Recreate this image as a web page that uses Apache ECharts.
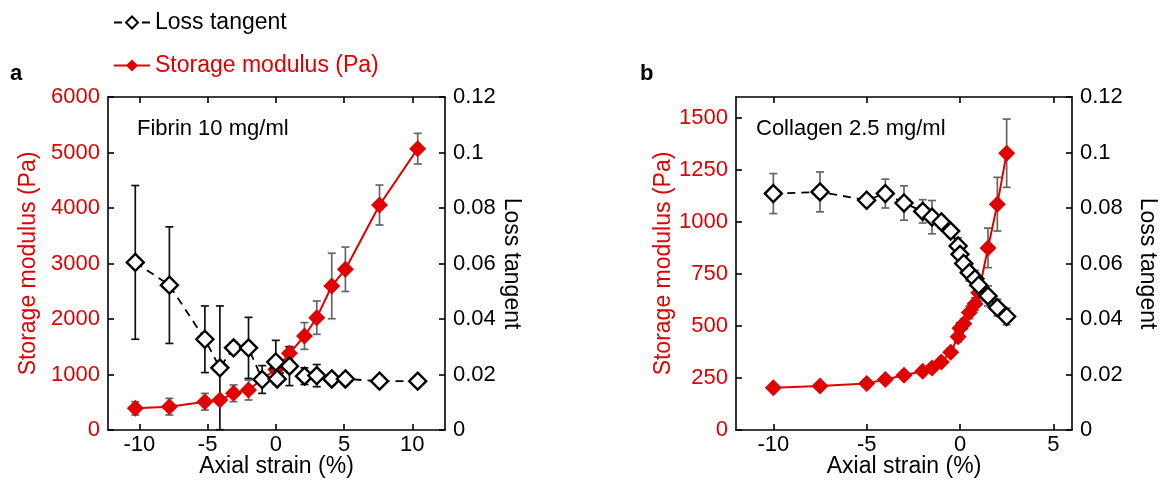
<!DOCTYPE html>
<html>
<head>
<meta charset="utf-8">
<script src="https://cdn.jsdelivr.net/npm/echarts@6/dist/echarts.min.js"></script>
<style>
  html, body { margin: 0; padding: 0; background: #fff; }
  #chart { width: 1162px; height: 480px; }
</style>
</head>
<body>
<div id="chart"></div>
<script>
const RED = '#e00000'
const FONT = '"Liberation Sans", Arial, Helvetica, sans-serif'

// panel a: fibrin 10 mg/ml
const strainA = [-10.3, -7.8, -5.2, -4.1, -3.1, -2.0, -1.0, 0, 0.1, 1.0, 2.1, 3.0, 4.1, 5.1, 7.6, 10.4]
const storageA = [391, 420, 510, 540, 661, 721, 919, 1090, 1111, 1382, 1694, 2024, 2595, 2896, 4054, 5069]
const storageErrA = [120, 150, 150, 40, 150, 180, 100, 100, 100, 120, 240, 300, 590, 400, 360, 276]
const lossA = [0.0604, 0.0522, 0.0327, 0.0224, 0.0296, 0.0296, 0.0182, 0.0245, 0.0184, 0.023, 0.0194, 0.0196, 0.0184, 0.0184, 0.0176, 0.0176]
const lossErrA = [0.0277, 0.021, 0.012, 0.0223, 0.002, 0.011, 0.005, 0.0078, 0.002, 0.007, 0.003, 0.004, 0.002, 0.002, 0.001, 0.001]

// panel b: collagen 2.5 mg/ml
const strainB = [-10, -7.5, -5, -4, -3, -2, -1.5, -1, -0.5, -0.1, 0, 0.2, 0.5, 0.8, 1.0, 1.5, 2.0, 2.5]
const storageB = [203, 211, 224, 243, 263, 282, 298, 327, 374, 448, 489, 510, 565, 605, 660, 875, 1085, 1330]
const storageErrB = [15, 15, 15, 15, 15, 15, 20, 20, 20, 25, 25, 25, 30, 30, 40, 95, 129, 164]
const lossB = [0.0852, 0.0858, 0.0828, 0.0852, 0.0818, 0.0788, 0.0767, 0.075, 0.0717, 0.0663, 0.0633, 0.06, 0.0567, 0.0545, 0.0522, 0.0483, 0.0441, 0.0409]
const lossErrB = [0.0072, 0.0072, 0.001, 0.0052, 0.0062, 0.0042, 0.006, 0.002, 0.002, 0.003, 0.003, 0.003, 0.003, 0.003, 0.002, 0.0036, 0.003, 0.003]

const ticksA = [-10, -5, 0, 5, 10]
const ticksB = [-10, -5, 0, 5]
const storageTicksA = [0, 1000, 2000, 3000, 4000, 5000, 6000]
const storageTicksB = [0, 250, 500, 750, 1000, 1250, 1500]

const chart = echarts.init(document.getElementById('chart'), null, { renderer: 'canvas' })

function pairs(xs, ys) {
  return xs.map((x, i) => [x, ys[i]])
}

function errData(xs, ys, es) {
  return xs.map((x, i) => [x, Math.max(0, ys[i] - es[i]), ys[i] + es[i]])
}

function errSeries(xi, yi, data, color) {
  return {
    type: 'custom',
    xAxisIndex: xi,
    yAxisIndex: yi,
    z: 1,
    silent: true,
    data: data,
    renderItem: (params, api) => {
      const x = api.value(0)
      const p1 = api.coord([x, api.value(2)])
      const p2 = api.coord([x, api.value(1)])
      const w = 4
      const style = { stroke: color, lineWidth: 1.7 }
      return {
        type: 'group',
        children: [
          { type: 'line', shape: { x1: p1[0], y1: p1[1], x2: p2[0], y2: p2[1] }, style },
          { type: 'line', shape: { x1: p1[0] - w, y1: p1[1], x2: p1[0] + w, y2: p1[1] }, style },
          { type: 'line', shape: { x1: p2[0] - w, y1: p2[1], x2: p2[0] + w, y2: p2[1] }, style },
        ],
      }
    },
  }
}

function storageSeries(xi, yi, data) {
  return {
    name: 'Storage modulus (Pa)',
    type: 'line',
    xAxisIndex: xi,
    yAxisIndex: yi,
    z: 2,
    data: data,
    symbol: 'diamond',
    symbolSize: 17,
    lineStyle: { color: RED, width: 2 },
    itemStyle: { color: RED },
    emphasis: { disabled: true },
  }
}

function lossSeries(xi, yi, data) {
  return {
    name: 'Loss tangent',
    type: 'line',
    xAxisIndex: xi,
    yAxisIndex: yi,
    z: 3,
    data: data,
    symbol: 'diamond',
    symbolSize: 17,
    lineStyle: { color: '#000', width: 1.8, type: [8, 6] },
    itemStyle: { color: '#fff', borderColor: '#000', borderWidth: 2.4 },
    emphasis: { disabled: true },
  }
}

const axisLine = { show: true, onZero: false, lineStyle: { color: '#000', width: 1.6 } }
const tickStyle = { color: '#000', width: 1.6 }
const labelStyle = { fontSize: 22, fontFamily: FONT, color: '#000' }
const plain = v => String(v)

function xAxes(gi, min, max, ticks) {
  return [
    {
      type: 'value', gridIndex: gi, position: 'bottom', min, max,
      name: 'Axial strain (%)', nameLocation: 'middle', nameGap: 25, nameMoveOverlap: false,
      nameTextStyle: { fontSize: 23, fontFamily: FONT, color: '#000', verticalAlign: 'top' },
      axisLine,
      axisTick: { inside: true, length: 6, lineStyle: tickStyle, customValues: ticks },
      axisLabel: { ...labelStyle, margin: 4, customValues: ticks, formatter: plain },
      splitLine: { show: false },
    },
    {
      type: 'value', gridIndex: gi, position: 'top', min, max,
      axisLine,
      axisTick: { inside: true, length: 6, lineStyle: tickStyle, customValues: ticks },
      axisLabel: { show: false },
      splitLine: { show: false },
    },
  ]
}

function yAxes(gi, leftMax, leftTicks, leftGap, rightGap) {
  return [
    {
      type: 'value', gridIndex: gi, position: 'left', min: 0, max: leftMax,
      name: 'Storage modulus (Pa)', nameLocation: 'middle', nameGap: leftGap,
      nameTextStyle: { fontSize: 23, fontFamily: FONT, color: RED },
      axisLine,
      axisTick: { inside: true, length: 6, lineStyle: tickStyle, customValues: leftTicks },
      axisLabel: { ...labelStyle, color: RED, margin: 8, customValues: leftTicks, formatter: plain },
      splitLine: { show: false },
    },
    {
      type: 'value', gridIndex: gi, position: 'right', min: 0, max: 0.12, interval: 0.02,
      name: 'Loss tangent', nameLocation: 'middle', nameGap: rightGap, nameRotate: -90,
      nameTextStyle: { fontSize: 23, fontFamily: FONT, color: '#000' },
      axisLine,
      axisTick: { inside: true, length: 6, lineStyle: tickStyle },
      axisLabel: { ...labelStyle, margin: 8, formatter: v => String(+v.toFixed(2)) },
      splitLine: { show: false },
    },
  ]
}

const option = {
  backgroundColor: '#fff',
  animation: false,
  textStyle: { fontFamily: FONT },
  grid: [
    { left: 108, top: 97, width: 337, height: 333, outerBoundsMode: 'none' },
    { left: 736, top: 97, width: 336, height: 333, outerBoundsMode: 'none' },
  ],
  legend: {
    orient: 'vertical',
    left: 108,
    top: 6,
    itemWidth: 36,
    itemHeight: 15,
    itemGap: 20,
    selectedMode: false,
    textStyle: { fontSize: 23, fontFamily: FONT, color: '#000' },
    data: [
      { name: 'Loss tangent' },
      { name: 'Storage modulus (Pa)', textStyle: { color: RED } },
    ],
  },
  xAxis: [...xAxes(0, -12.3, 12.4, ticksA), ...xAxes(1, -12, 6, ticksB)],
  yAxis: [
    ...yAxes(0, 6000, storageTicksA, 68, 51),
    ...yAxes(1, 1600, storageTicksB, 52, 64),
  ],
  graphic: [
    { type: 'text', left: 10, top: 63, style: { text: 'a', font: 'bold 22px ' + FONT, fill: '#000' } },
    { type: 'text', left: 640, top: 63, style: { text: 'b', font: 'bold 22px ' + FONT, fill: '#000' } },
    { type: 'text', left: 137, top: 118, style: { text: 'Fibrin 10 mg/ml', font: '22px ' + FONT, fill: '#000' } },
    { type: 'text', left: 756, top: 118, style: { text: 'Collagen 2.5 mg/ml', font: '22px ' + FONT, fill: '#000' } },
  ],
  series: [
    errSeries(0, 0, errData(strainA, storageA, storageErrA), '#666'),
    errSeries(0, 1, errData(strainA, lossA, lossErrA), '#111'),
    storageSeries(0, 0, pairs(strainA, storageA)),
    lossSeries(0, 1, pairs(strainA, lossA)),
    errSeries(2, 2, errData(strainB, storageB, storageErrB), '#666'),
    errSeries(2, 3, errData(strainB, lossB, lossErrB), '#666'),
    storageSeries(2, 2, pairs(strainB, storageB)),
    lossSeries(2, 3, pairs(strainB, lossB)),
  ],
}

chart.setOption(option)
window.addEventListener('resize', () => chart.resize())
</script>
</body>
</html>
